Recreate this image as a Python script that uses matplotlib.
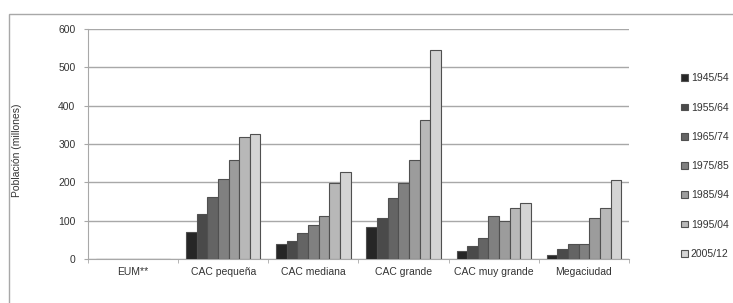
import numpy as np
import matplotlib
matplotlib.use("Agg")
import matplotlib.pyplot as plt
from matplotlib.patches import Rectangle

categories = ["EUM**", "CAC pequeña", "CAC mediana", "CAC grande", "CAC muy grande", "Megaciudad"]
periods = ["1945/54", "1955/64", "1965/74", "1975/85", "1985/94", "1995/04", "2005/12"]

# one list per period, values across categories
p1945 = [0, 70, 38, 83, 20, 10]
p1955 = [0, 117, 46, 107, 33, 25]
p1965 = [0, 163, 68, 160, 55, 38]
p1975 = [0, 210, 88, 198, 113, 38]
p1985 = [0, 258, 113, 258, 100, 108]
p1995 = [0, 318, 198, 362, 132, 133]
p2005 = [0, 325, 228, 545, 147, 205]
series = [p1945, p1955, p1965, p1975, p1985, p1995, p2005]

colors = ["#262626", "#4a4a4a", "#646464", "#808080", "#9c9c9c", "#b8b8b8", "#d4d4d4"]

plt.rcParams["font.family"] = ["Liberation Sans", "DejaVu Sans"]

fig = plt.figure(figsize=(7.33, 3.03), dpi=100)
ax = fig.add_axes([88 / 733, 1 - 259 / 303, (629 - 88) / 733, (259 - 29) / 303])

# outer frame
fig.patches.append(Rectangle((9 / 733, -0.05), 1.0, 1 - 14 / 303 + 0.05,
                             transform=fig.transFigure, fill=False,
                             edgecolor="#a8a8a8", linewidth=1.0))

x = np.arange(len(categories))
w = 0.118
for i, (vals, c, lab) in enumerate(zip(series, colors, periods)):
    ax.bar(x + (i - 3) * w, vals, width=w, color=c, edgecolor="#505050",
           linewidth=0.8, label=lab, zorder=3)

ax.set_xlim(-0.5, len(categories) - 0.5)
ax.set_ylim(0, 600)
ax.set_yticks(range(0, 601, 100))
ax.grid(axis="y", color="#a8a8a8", linewidth=1.0, zorder=0)
ax.set_xticks(x)
ax.set_xticklabels(categories)
ax.set_xticks(np.arange(-0.5, len(categories), 1), minor=True)
ax.tick_params(axis="x", which="major", length=0, pad=6, labelsize=7.5, colors="#333333")
ax.tick_params(axis="x", which="minor", length=3, color="#a8a8a8")
ax.tick_params(axis="y", length=3, color="#a8a8a8", labelsize=7.5, labelcolor="#333333", pad=6)

for s in ["top", "right"]:
    ax.spines[s].set_visible(False)
ax.spines["left"].set_color("#a8a8a8")
ax.spines["bottom"].set_color("#a8a8a8")

fig.text(17 / 733, 1 - 150 / 303, "Población (millones)", rotation=90,
         va="center", ha="center", fontsize=7.5, color="#333333")

ax.legend(loc="upper left", bbox_to_anchor=(672 / 733, 1 - 64 / 303),
          bbox_transform=fig.transFigure, frameon=False, fontsize=7.5,
          handlelength=0.6, handleheight=0.6, handletextpad=0.3,
          labelspacing=1.85, labelcolor="#333333")

fig.savefig("out.png", dpi=100)
